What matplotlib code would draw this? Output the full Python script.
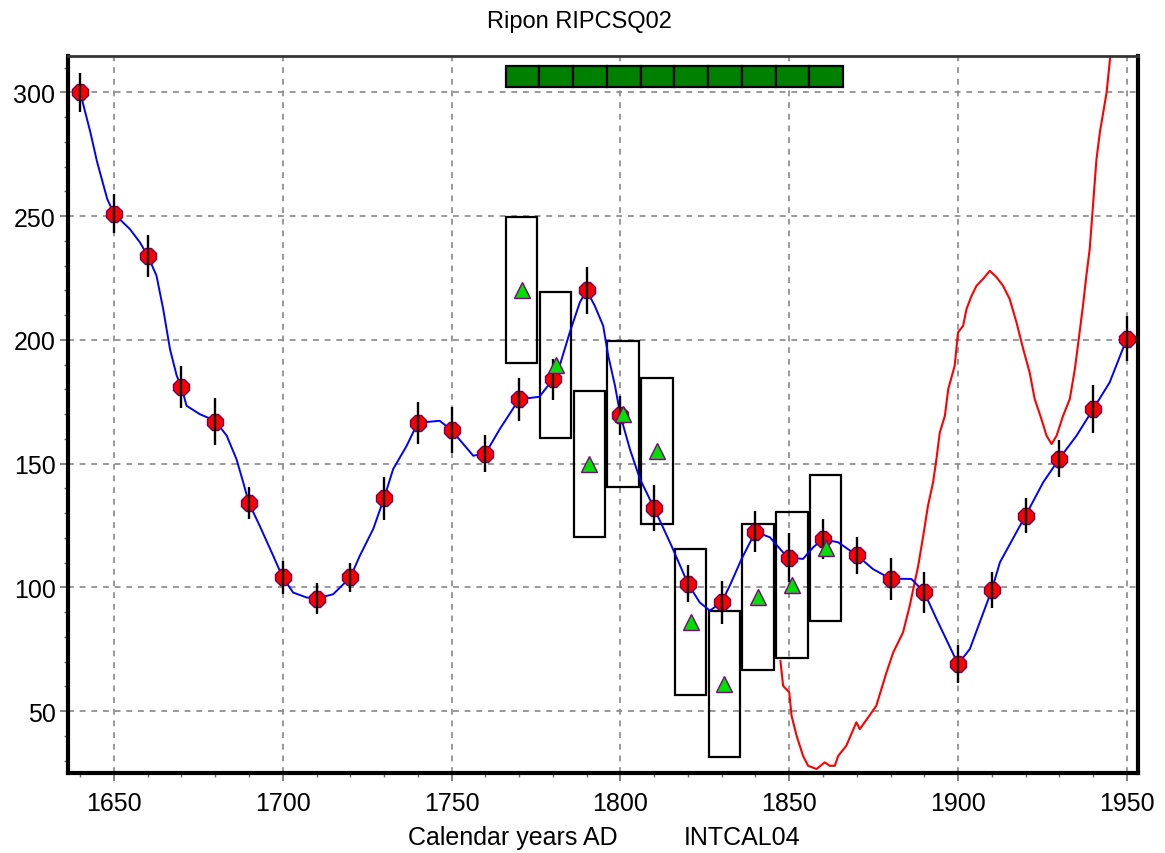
import matplotlib
matplotlib.use("Agg")
import matplotlib.pyplot as plt
import numpy as np

plt.rcParams['font.family'] = ['Liberation Sans', 'DejaVu Sans']

# calibration curve points (decadal) with errors
cal_years = np.arange(1640, 1951, 10)
cal_vals = [300, 251, 234, 181, 167, 134, 104, 95.5, 104, 136, 166.5, 163.5,
            154, 176, 184, 220, 169.5, 132, 101.5, 94, 122.5, 112, 119.5, 113,
            103.5, 98, 69, 99, 129, 152, 172, 200.5]
cal_err = [8, 8, 8.4, 8.4, 9.4, 6.4, 6.7, 6.4, 6, 8.7, 8.5, 9.3, 7.5, 8.7, 8.4,
           9.4, 8, 9.4, 7.4, 8.7, 8.4, 10, 8, 7.4, 8.4, 8.4, 7.7, 7.4, 7, 7.4,
           9.7, 9]

# blue curve
curve_years = [1640, 1643, 1645, 1648, 1650, 1654.7, 1657.7, 1660, 1662.6, 1664.6,
               1666.6, 1668.6, 1670, 1671.5, 1675.4, 1680, 1683.4, 1686.3, 1688.3,
               1690, 1693.2, 1697.2, 1700, 1703.1, 1707.1, 1710, 1714.9, 1720,
               1722.8, 1726.8, 1730, 1732.7, 1736.7, 1740, 1746.5, 1750, 1756.4,
               1760, 1764.3, 1770, 1776, 1780, 1782, 1785, 1788, 1790, 1792.4,
               1794.9, 1796.4, 1798.4, 1800, 1802.8, 1805.8, 1810, 1815.1, 1820,
               1823.5, 1826.5, 1830, 1832.4, 1835.9, 1840, 1844.3, 1848.2, 1850,
               1854.1, 1857.1, 1860, 1864.5, 1870, 1874.8, 1880, 1886.2, 1890,
               1893.6, 1900, 1903.5, 1910, 1912.4, 1920, 1925.2, 1930, 1935.1,
               1940, 1944.9, 1950]
curve_vals = [300, 284, 272, 257, 251, 244.8, 239.4, 234, 226, 212.4,
              196.3, 185.5, 181, 173.4, 170, 167.3, 161.3, 151.8, 142.4,
              134, 124.8, 112.7, 104, 97.9, 95.9, 95.5, 97.2, 104,
              112.7, 123.6, 136, 147.8, 157.2, 166.5, 167.3, 163.5, 153.2,
              154, 164, 176, 177, 184, 189.5, 203, 215.2, 220, 213.8,
              205.7, 193.6, 181.5, 169.5, 155.9, 143.8, 132, 116.9, 101.5,
              93.9, 90.6, 94, 100.7, 111.5, 122.5, 120.2, 114.1, 112,
              111.5, 116.2, 119.5, 118.2, 113, 107.4, 103.5, 103.4, 98,
              87.3, 69, 75.1, 99, 110.1, 129, 142.4, 152, 161.3,
              172, 182.8, 200.5]

# red line
red_years = [1847.4, 1848.2, 1850, 1850.7, 1852.2, 1854.1, 1855.6, 1858.1, 1860.5,
             1862.0, 1863.5, 1864.5, 1866.9, 1869.9, 1870.9, 1873.4, 1875.8, 1877.3,
             1878.8, 1880.8, 1883.7, 1885.7, 1888.2, 1889.7, 1891.1, 1892.6, 1893.6,
             1894.6, 1896.1, 1897.1, 1899.0, 1900.0, 1901.5, 1902.5, 1904.0, 1905.5,
             1907.4, 1909.4, 1911.4, 1913.3, 1915.3, 1917.3, 1919.3, 1921.2, 1922.7,
             1924.7, 1926.2, 1927.7, 1929.2, 1931.1, 1933.1, 1934.6, 1936.0, 1937.0,
             1938.0, 1939.0, 1941.0, 1942.0, 1944.0, 1945.2]
red_vals = [70.3, 60.2, 57.6, 48.1, 40, 31.9, 27.9, 26.6, 29.3,
            27.9, 27.9, 31.9, 36, 45.5, 42.7, 47.5, 52.2, 58.9,
            65.6, 73.7, 81.8, 92.6, 108.7, 120.9, 133, 142.4, 151.8,
            162.6, 169.3, 180.1, 189.5, 203, 205.7, 212.4, 217.8, 221.9,
            224.6, 227.9, 225.3, 221.9, 216.5, 207.1, 196.3, 186.9, 176.1,
            168, 161.3, 157.9, 161.3, 169.3, 176.1, 188.2, 203, 213.8,
            225.9, 236.7, 273, 283.8, 300, 316]

# wiggle-match samples (triangles + boxes)
sample_years = np.arange(1770.8, 1862, 10)
sample_vals = [220, 190, 150, 170, 155, 86, 61, 96, 101, 116]
sample_err = 29.5

# green bar segments at the top
seg_starts = np.arange(1766, 1866, 10)
seg_bottom = 302.3
seg_top = 310.5

fig = plt.figure(figsize=(11.65, 8.54), dpi=100)
ax = fig.add_axes([68 / 1165, 1 - 774 / 854, (1138 - 68) / 1165, (774 - 57) / 854])

ax.set_xlim(1636.4, 1953.3)
ax.set_ylim(25, 314.7)

ax.set_xticks(np.arange(1650, 1951, 50))
ax.set_xticks(np.arange(1640, 1951, 10), minor=True)
ax.set_yticks(np.arange(50, 301, 50))
ax.set_yticks(np.arange(30, 311, 10), minor=True)
ax.grid(True, which='major', color='#888888', linestyle=(0, (3.5, 3.5)), linewidth=1.2)
ax.set_axisbelow(True)
ax.tick_params(which='major', length=6, width=1.2, color='#707070', labelsize=18)
ax.tick_params(axis='x', which='major', pad=7)
ax.tick_params(axis='y', which='major', pad=3)
ax.tick_params(which='minor', length=3, width=1, color='#707070')

for side in ['left', 'bottom', 'right']:
    ax.spines[side].set_linewidth(3)
ax.spines['top'].set_linewidth(2)
ax.spines['top'].set_color('#333333')

ax.plot(red_years, red_vals, color='red', lw=1.5, zorder=2)

ax.bar(sample_years, 2 * sample_err, bottom=np.array(sample_vals) - sample_err,
       width=9.3, fill=False, edgecolor='black', linewidth=1.6, zorder=3)

ax.bar(seg_starts, seg_top - seg_bottom, bottom=seg_bottom, width=10, align='edge',
       color='#008000', edgecolor='black', linewidth=1.6, zorder=3)

ax.plot(curve_years, curve_vals, color='blue', lw=1.4, zorder=4)

ax.plot(cal_years, cal_vals, linestyle='none', marker='8', ms=12,
        mfc='red', mec='#700050', mew=1, zorder=5)
ax.errorbar(cal_years, cal_vals, yerr=cal_err, fmt='none', ecolor='black',
            elinewidth=1.7, capsize=0, zorder=6)

ax.plot(sample_years, sample_vals, linestyle='none', marker='^', ms=12,
        mfc='#00e000', mec='#800080', mew=1, zorder=7)

fig.text(579 / 1165, 1 - 22 / 854, 'Ripon RIPCSQ02', ha='center', va='center', fontsize=17)
fig.text(408 / 1165, 1 - 838 / 854, 'Calendar years AD', ha='left', va='center', fontsize=18)
fig.text(684 / 1165, 1 - 838 / 854, 'INTCAL04', ha='left', va='center', fontsize=18)

fig.savefig('out.png', dpi=100)
